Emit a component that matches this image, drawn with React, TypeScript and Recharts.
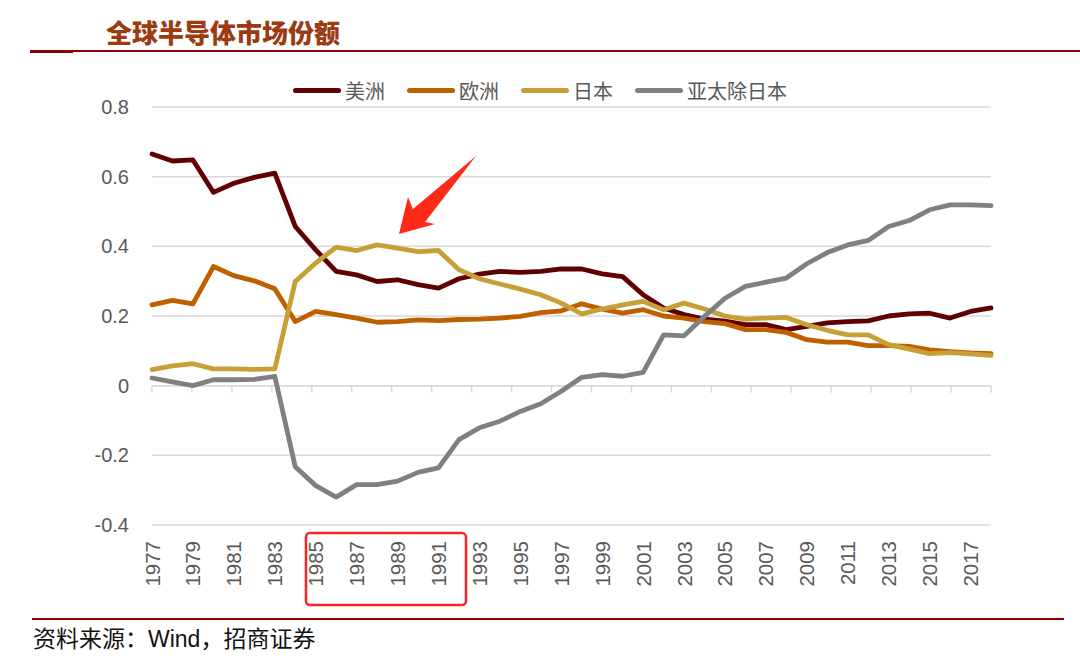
import React from 'react'
import { LineChart, Line, XAxis, YAxis, CartesianGrid, ReferenceLine } from 'recharts'

// 全球半导体市场份额 1977-2018
const years = [
  '1977', '1978', '1979', '1980', '1981', '1982', '1983', '1984', '1985', '1986',
  '1987', '1988', '1989', '1990', '1991', '1992', '1993', '1994', '1995', '1996',
  '1997', '1998', '1999', '2000', '2001', '2002', '2003', '2004', '2005', '2006',
  '2007', '2008', '2009', '2010', '2011', '2012', '2013', '2014', '2015', '2016',
  '2017', '2018',
]

const america = [
  0.665, 0.645, 0.648, 0.555, 0.581, 0.598, 0.61, 0.457, 0.39, 0.328,
  0.318, 0.299, 0.304, 0.29, 0.28, 0.307, 0.32, 0.328, 0.325, 0.328,
  0.335, 0.335, 0.321, 0.313, 0.261, 0.223, 0.204, 0.191, 0.185, 0.175,
  0.175, 0.161, 0.17, 0.18, 0.184, 0.186, 0.2, 0.206, 0.208, 0.194,
  0.213, 0.223,
]

const europe = [
  0.232, 0.245, 0.235, 0.342, 0.316, 0.301, 0.278, 0.184, 0.213, 0.204,
  0.194, 0.182, 0.184, 0.189, 0.187, 0.19, 0.191, 0.194, 0.199, 0.21,
  0.215, 0.235, 0.22, 0.208, 0.218, 0.2, 0.194, 0.184, 0.178, 0.161,
  0.161, 0.153, 0.132, 0.125, 0.125, 0.115, 0.115, 0.113, 0.103, 0.098,
  0.094, 0.092,
]

const japan = [
  0.046, 0.057, 0.063, 0.048, 0.048, 0.047, 0.048, 0.299, 0.352, 0.398,
  0.388, 0.404, 0.395, 0.385, 0.388, 0.333, 0.307, 0.292, 0.277, 0.261,
  0.237, 0.206, 0.22, 0.232, 0.242, 0.218, 0.237, 0.22, 0.2, 0.191,
  0.194, 0.196, 0.175, 0.159, 0.146, 0.146, 0.118, 0.105, 0.092, 0.095,
  0.091, 0.087,
]

const asiaExJapan = [
  0.022, 0.011, 0.0, 0.017, 0.017, 0.018, 0.027, -0.233, -0.287, -0.32,
  -0.284, -0.284, -0.274, -0.249, -0.236, -0.155, -0.121, -0.102, -0.074, -0.052,
  -0.016, 0.024, 0.032, 0.027, 0.038, 0.146, 0.143, 0.199, 0.251, 0.285,
  0.297, 0.309, 0.35, 0.382, 0.404, 0.417, 0.457, 0.474, 0.505, 0.519,
  0.519, 0.517,
]

const yTicks = [-0.4, -0.2, 0, 0.2, 0.4, 0.6, 0.8]

const series = [
  { key: 'america', name: '美洲', color: '#600000' },
  { key: 'europe', name: '欧洲', color: '#BF6000' },
  { key: 'japan', name: '日本', color: '#C6A036' },
  { key: 'asia', name: '亚太除日本', color: '#808080' },
]

const data = years.map((year, i) => ({
  year,
  america: america[i],
  europe: europe[i],
  japan: japan[i],
  asia: asiaExJapan[i],
}))

const LATIN = '"Liberation Sans", Arial, sans-serif'
const CJK = '"Noto Sans CJK SC", sans-serif'
const GRID = '#D9D9D9'
const DARK_RED = '#8B0000'

const YearTick = ({ x, y, payload }: any) => (
  <text
    x={x}
    y={y}
    transform={`rotate(-90, ${x}, ${y})`}
    textAnchor="end"
    dominantBaseline="central"
    fill="#595959"
    fontSize={20.5}
    fontFamily={LATIN}
  >
    {payload.value}
  </text>
)

// zero axis line, with a tick mark every two years (Excel style)
const ZeroAxis = (props: any) => {
  const { x1, y1, x2 } = props
  const step = ((x2 - x1) / years.length) * 2
  const marks = []
  for (let k = 0; k <= years.length / 2; k++) {
    const x = x1 + k * step
    marks.push(<line key={k} x1={x} x2={x} y1={y1} y2={y1 + 7} stroke={GRID} strokeWidth={1.5} />)
  }
  return (
    <g>
      <line x1={x1} x2={x2} y1={y1} y2={y1} stroke={GRID} strokeWidth={1.5} />
      {marks}
    </g>
  )
}

export default function App() {
  return (
    <div style={{ position: 'absolute', left: 0, top: 0, width: 1080, height: 661, background: '#fff' }}>
      {/* header */}
      <div
        style={{
          position: 'absolute',
          left: 106,
          top: 16,
          fontSize: 26,
          lineHeight: '32px',
          fontWeight: 900,
          color: '#9C3A12',
          fontFamily: CJK,
        }}
      >
        全球半导体市场份额
      </div>
      <div style={{ position: 'absolute', left: 30, top: 50, width: 1050, height: 2, background: DARK_RED }} />
      <div style={{ position: 'absolute', left: 30, top: 50, width: 43, height: 3, background: DARK_RED }} />

      {/* legend */}
      <div
        style={{
          position: 'absolute',
          left: 293,
          top: 76,
          display: 'flex',
          alignItems: 'center',
          height: 28,
          fontFamily: CJK,
          fontSize: 20,
          color: '#595959',
        }}
      >
        {series.map(s => (
          <div key={s.key} style={{ display: 'flex', alignItems: 'center', marginRight: 22 }}>
            <span style={{ width: 48, height: 5, borderRadius: 3, background: s.color, marginRight: 4 }} />
            <span>{s.name}</span>
          </div>
        ))}
      </div>

      <div style={{ position: 'absolute', left: 0, top: 0 }}>
        <LineChart width={1080} height={661} data={data} margin={{ top: 107, right: 89, bottom: 76, left: 92 }}>
          <CartesianGrid vertical={false} stroke={GRID} strokeWidth={1.5} />
          <XAxis
            dataKey="year"
            axisLine={false}
            tickLine={false}
            tickSize={0}
            tickMargin={16}
            interval={1}
            height={60}
            tick={<YearTick />}
          />
          <YAxis
            domain={[-0.4, 0.8]}
            ticks={yTicks}
            width={60}
            axisLine={false}
            tickLine={false}
            tickSize={0}
            tickMargin={23}
            tick={{ fill: '#595959', fontSize: 20, fontFamily: LATIN }}
            tickFormatter={v => (v === 0 ? '0' : v.toFixed(1))}
          />
          <ReferenceLine y={0} shape={ZeroAxis} />
          {series.map(s => (
            <Line
              key={s.key}
              type="linear"
              dataKey={s.key}
              name={s.name}
              stroke={s.color}
              strokeWidth={4.8}
              strokeLinejoin="round"
              strokeLinecap="round"
              dot={false}
              activeDot={false}
              isAnimationActive={false}
            />
          ))}
        </LineChart>
      </div>

      {/* annotations */}
      <svg width={1080} height={661} style={{ position: 'absolute', left: 0, top: 0, pointerEvents: 'none' }}>
        <polygon
          points="399,234 408,197 413,209 476,156 425,222 435,224"
          fill="#FF2A1A"
        />
        <rect x={306} y={533} width={160} height={72} rx={4} fill="none" stroke="#FF2020" strokeWidth={2.5} />
      </svg>

      {/* footer */}
      <div style={{ position: 'absolute', left: 32, top: 617.5, width: 1032, height: 2, background: DARK_RED }} />
      <div
        style={{
          position: 'absolute',
          left: 33,
          top: 623,
          fontSize: 23,
          lineHeight: '28px',
          color: '#111',
          fontFamily: CJK,
        }}
      >
        资料来源：<span style={{ fontFamily: LATIN }}>Wind</span>，招商证券
      </div>
    </div>
  )
}
